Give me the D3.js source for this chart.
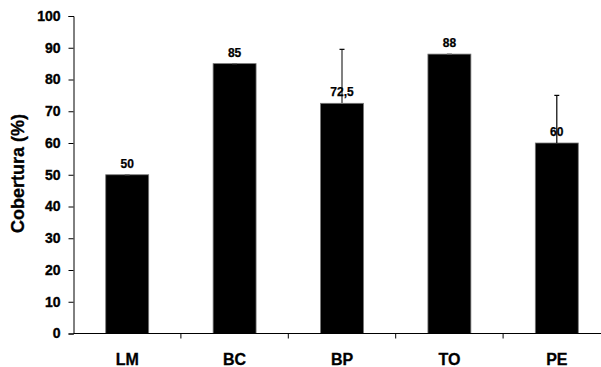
<!DOCTYPE html>
<html><head><meta charset="utf-8">
<script src="https://cdn.jsdelivr.net/npm/d3@7"></script>
<style>body{margin:0;background:#fff}svg{display:block;font-family:"Liberation Sans",Arial,sans-serif}</style>
</head><body><svg id="c" width="601" height="367"></svg>
<script>
const categories = ["LM","BC","BP","TO","PE"];
const values = [50, 85, 72.5, 88, 60];
const labels = ["50","85","72,5","88","60"];
const errors = [0, 0, 17, 0, 15];
const errorColors = ["#808080","#000","#808080","#808080","#000"];
const yTicks = [0,10,20,30,40,50,60,70,80,90,100];

const svg = d3.select("#c");
const x = d3.scaleBand().domain(categories).range([73.5, 610.5]).paddingInner(0.6).paddingOuter(0.3);
const y = d3.scaleLinear().domain([0,100]).range([333.5, 16]);
const step = x.step();

// bars
svg.selectAll("rect.bar").data(values).join("rect")
  .attr("x", (d,i)=>x(categories[i])).attr("y", d=>y(d))
  .attr("width", x.bandwidth()).attr("height", d=>y(0)-y(d))
  .attr("fill","#000").attr("stroke","#777").attr("stroke-width",0.8);

// error bars
const eg = svg.append("g");
values.forEach((v,i)=>{
  const cx = x(categories[i]) + x.bandwidth()/2;
  eg.append("line").attr("x1",cx).attr("x2",cx).attr("y1",y(v)).attr("y2",y(v+errors[i]))
    .attr("stroke",errorColors[i]).attr("stroke-width", i===2?2:1.2);
  eg.append("line").attr("x1",cx-2.5).attr("x2",cx+2.5).attr("y1",y(v+errors[i])).attr("y2",y(v+errors[i]))
    .attr("stroke", errors[i] ? "#000" : "#666").attr("stroke-width",1.2);
});

// value labels
svg.selectAll("text.val").data(values).join("text")
  .attr("x",(d,i)=>x(categories[i])+x.bandwidth()/2).attr("y",d=>y(d)-7)
  .attr("text-anchor","middle").style("font-size","12px").style("font-weight","bold")
  .attr("stroke","#000").attr("stroke-width",0.25)
  .text((d,i)=>labels[i]);

// y axis
const ya = svg.append("g").attr("transform","translate(73.5,0)")
  .call(d3.axisLeft(y).tickValues(yTicks).tickSize(5).tickPadding(8));
ya.attr("font-family",null).attr("font-size",null);
ya.select(".domain").attr("stroke","#000");
ya.selectAll("text").style("font-size","14px").style("font-weight","bold").attr("fill","#000")
  .attr("stroke","#000").attr("stroke-width",0.35)
  .style("font-family","'Liberation Sans', Arial, sans-serif");

// x axis
svg.append("line").attr("x1",73.5).attr("x2",610).attr("y1",y(0)).attr("y2",y(0)).attr("stroke","#000");
const bounds = categories.map(c=>x(c)+x.bandwidth()/2+step/2);
svg.selectAll("line.xt").data(bounds).join("line")
  .attr("x1",d=>d).attr("x2",d=>d).attr("y1",y(0)).attr("y2",y(0)+5).attr("stroke","#000");
svg.selectAll("text.cat").data(categories).join("text")
  .attr("x",d=>x(d)+x.bandwidth()/2).attr("y",364.5)
  .attr("text-anchor","middle").style("font-size","16px").style("font-weight","bold")
  .attr("stroke","#000").attr("stroke-width",0.3).text(d=>d);

// y title
svg.append("text").attr("transform","translate(24,173.5) rotate(-90)")
  .attr("text-anchor","middle").style("font-size","18px").style("font-weight","bold")
  .attr("stroke","#000").attr("stroke-width",0.3).text("Cobertura (%)");
</script></body></html>
